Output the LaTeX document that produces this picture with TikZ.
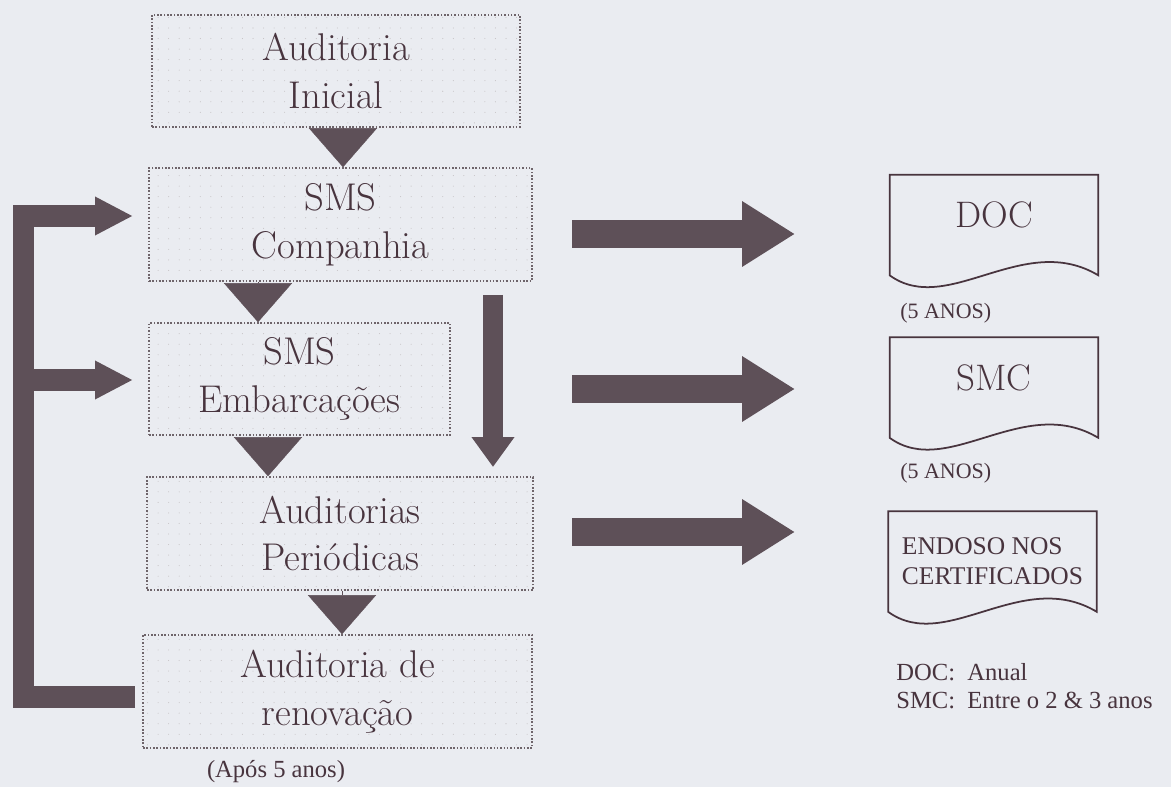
\documentclass[tikz,border=0pt]{standalone}
\usepackage{fontspec}
\newfontfamily\timesf{Liberation Serif}
\usetikzlibrary{arrows.meta,patterns.meta}
\definecolor{inkc}{RGB}{72,52,62}
\definecolor{arrowc}{RGB}{94,80,88}
\definecolor{boxc}{RGB}{110,100,106}
\definecolor{bgc}{RGB}{234,236,241}
\newcommand\boxfont{\fontsize{22}{27.3}\selectfont}
\newcommand\docfont{\fontsize{21}{25}\selectfont}
\newcommand\notefont{\timesf\fontsize{14}{16}\selectfont}
\newcommand\certfont{\timesf\fontsize{14.5}{17}\selectfont}
\begin{document}
\begin{tikzpicture}
[x=0.02cm, y=-0.02cm,
 box/.style={draw=boxc, densely dotted, line width=.9pt, align=center, font=\boxfont, text=inkc, inner sep=0pt,
   pattern={Dots[distance=6pt,radius=.3pt]}, pattern color=boxc!40},
 doc/.style={minimum width=4.16cm, minimum height=2cm, inner sep=0pt, text=inkc, align=left},
 bigdoc/.style={doc, font=\docfont, text depth=.4cm},
 docline/.style={draw=inkc, line width=1pt},
 note/.style={font=\notefont, text=inkc, inner sep=0pt},
 drop/.style={draw=arrowc, line width=.2pt, -{Triangle[width=1.36cm,length=.78cm]}},
 bigarrow/.style={draw=arrowc, line width=.58cm, -{Triangle[width=1.24cm,length=1.06cm]}},
 downarrow/.style={draw=arrowc, line width=.4cm, -{Triangle[width=.82cm,length=.6cm]}},
 loopbar/.style={draw=arrowc, line width=.44cm, -{Triangle[width=.72cm,length=.76cm]}}]
\fill[bgc] (0,0) rectangle (1171,787);
\useasboundingbox (0,0) rectangle (1171,787);

\node[box, minimum width=7.36cm, minimum height=2.24cm] (AI) at (336,71) {Auditoria\\Inicial};
\node[box, minimum width=7.66cm, minimum height=2.26cm] (SC) at (340.5,224.5) {SMS\\Companhia};
\node[box, minimum width=6.02cm, minimum height=2.24cm] (SE) at (299.5,379) {SMS\\Embarcações};
\node[box, minimum width=7.72cm, minimum height=2.26cm] (AP) at (340,533.5) {Auditorias\\Periódicas};
\node[box, minimum width=7.78cm, minimum height=2.26cm] (AR) at (337.5,691.5) {Auditoria de\\renovação};
\node[note] (APOS) at (276,772) {(Após 5 anos)};

\draw[drop] (AI.south -| 343,0) -- (SC.north -| 343,0);
\draw[drop] (SC.south -| 258,0) -- (SE.north -| 258,0);
\draw[drop] (SE.south -| 268,0) -- (AP.north -| 268,0);
\draw[drop] (AP.south -| 342,0) -- (AR.north -| 342,0);

\coordinate (V1) at (493,295);
\coordinate (V2) at (493,467);
\draw[downarrow] (V1) -- (V2);

\coordinate (L0) at (135,697);
\coordinate (L1) at (23.5,697);
\coordinate (L2) at (23.5,216);
\coordinate (L3) at (133,216);
\coordinate (M1) at (23.5,380);
\coordinate (M2) at (133,380);
\draw[loopbar] (L0) -- (L1) -- (L2) -- (L3);
\draw[loopbar] (M1) -- (M2);

\node[bigdoc] (DOC) at (994,225) {DOC};
\node[bigdoc] (SMC) at (994,387.5) {SMC};
\node[doc, font=\certfont] (END) at (992.5,561.5) {ENDOSO NOS\\CERTIFICADOS};
\draw[docline] (DOC.north west) -- (DOC.north east) -- (DOC.south east) .. controls +(-75,-45) and +(58,42) .. (DOC.south west) -- cycle;
\draw[docline] (SMC.north west) -- (SMC.north east) -- (SMC.south east) .. controls +(-75,-45) and +(58,42) .. (SMC.south west) -- cycle;
\draw[docline] (END.north west) -- (END.north east) -- (END.south east) .. controls +(-75,-45) and +(58,42) .. (END.south west) -- cycle;

\node[note, anchor=west, font=\timesf\fontsize{12.5}{15}\selectfont] (N1) at (900,313) {(5 ANOS)};
\node[note, anchor=west, font=\timesf\fontsize{12.5}{15}\selectfont] (N2) at (900,473) {(5 ANOS)};
\node[note, anchor=west, align=left] (LEG) at (896,686) {DOC:\ \ Anual\\SMC:\ \ Entre o 2 \& 3 anos};

\coordinate (A1) at (572,234);
\coordinate (B1) at (795,234);
\coordinate (A2) at (572,389);
\coordinate (B2) at (795,389);
\coordinate (A3) at (572,532);
\coordinate (B3) at (795,532);
\draw[bigarrow] (A1) -- (B1);
\draw[bigarrow] (A2) -- (B2);
\draw[bigarrow] (A3) -- (B3);
\end{tikzpicture}
\end{document}
